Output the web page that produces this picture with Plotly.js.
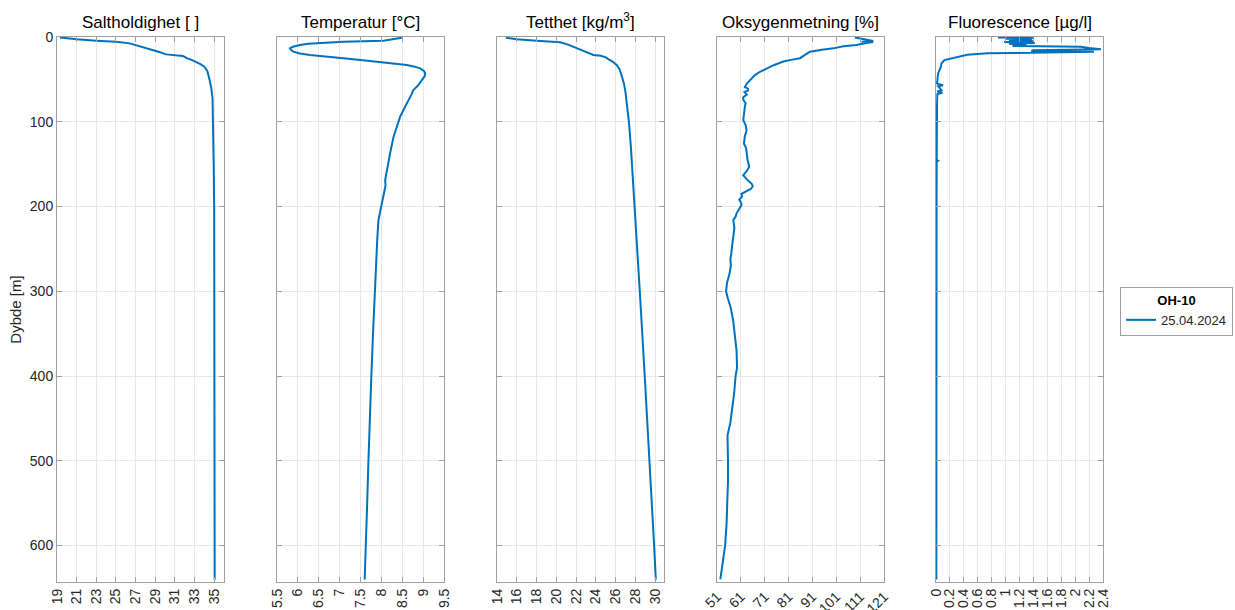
<!DOCTYPE html>
<html>
<head>
<meta charset="utf-8">
<script src="https://cdn.plot.ly/plotly-3.0.1.min.js"></script>
<style>html,body{margin:0;padding:0;background:#fff;}#chart{width:1235px;height:610px;}</style>
</head>
<body>
<div id="chart"></div>
<script>
// ---- Data ----
const salDepth = [0.5,2.7,4.3,5.5,7.5,11,14.2,18,20.5,21.5,22.4,23.5,25,27,29,32,35,40,49,60,72,100,150,200,300,400,500,600,640];
const salValue = [19.3,21.0,23.0,25.0,26.4,27.5,28.4,29.5,30.1,31.0,31.8,32.0,32.2,32.7,33.1,33.6,34.0,34.3,34.5,34.7,34.83,34.9,34.95,35.0,35.02,35.03,35.04,35.05,35.05];

const tempDepth = [0.8,2.5,4.3,5.5,6.7,8,9.4,11.5,13.4,15.5,17.3,19.5,21.2,23,25.2,27,29,31,33,35,37,40,43,46,49,53,57,60,63,68,74,84,94,105,118,137,157,169,175,185,200,216,240,270,300,350,400,450,500,550,600,640];
const tempValue = [8.49,8.3,8.05,7.09,6.53,6.25,6.05,5.88,5.81,5.84,5.89,6.05,6.29,6.6,7.09,7.5,7.89,8.3,8.61,8.8,8.93,9.02,9.05,9.04,9.0,8.95,8.88,8.82,8.76,8.72,8.65,8.55,8.45,8.37,8.29,8.21,8.13,8.09,8.1,8.06,8.01,7.93,7.9,7.87,7.84,7.8,7.76,7.72,7.69,7.66,7.63,7.6];

const densDepth = [0.8,2.7,4.3,6.3,9,13.4,17,21.2,22.2,23.2,24,26.4,29,33,38,45,55,65,80,100,130,200,300,400,500,600,640];
const densValue = [14.9,16.0,18.0,20.4,21.2,22.1,22.9,23.75,24.5,24.9,25.0,25.3,25.7,26.1,26.4,26.6,26.85,27.0,27.15,27.35,27.55,27.95,28.45,28.95,29.45,29.9,30.07];

const oxyDepth = [0.5,2,4.7,5.5,6,7.5,9.4,11,13.4,15,17.3,20,25,27,29,33,37,41,45,51,55,59,61,63,65,68,71,74,78,82,90,98,104,110,118,126,131,137,145,153,158,163,168,173,176,179,183,185,188,192,195,198,203,208,212,216,225,235,245,255,262,270,280,290,300,308,320,335,350,370,390,400,420,440,455,470,485,500,525,550,575,600,620,640];
const oxyValue = [108.8,112,116.5,111.6,116.5,113,109.5,104,99.8,95,90,88.5,85.8,82,78.8,75,71.8,69,66.9,64.8,63.5,62.7,64,64.1,62.5,63.5,62,62.0,63,62.7,62.2,62.0,63,63.4,62.6,62.3,63.2,63.4,63.8,64.5,63.5,62.0,63.5,65.5,66,65.3,62.5,61.3,61.5,60.3,61,61.3,60.3,59.2,58.8,57.8,58.3,58,57.4,57,56.6,56.8,56.2,55.2,54.8,55.5,56.8,57.8,58.5,59.2,59.4,58.8,58.2,57.2,56.6,55.4,55.6,55.6,55.6,55.4,55.0,54.4,53.5,52.4];

const fluoDepth = [0.5,1.0,2.0,3.0,4.0,5.0,6.0,7.0,8.0,9.0,10.5,11.5,13.0,14.5,15.5,16.5,17.4,18.5,19.3,21,23.3,27.2,31,35,43,50,55,57,58,63,64,66,67,80,100,120,145,146,147,200,300,400,500,600,640];
const fluoValue = [0.89,1.41,1.00,1.38,1.05,1.40,0.98,1.42,1.05,1.30,1.10,2.08,2.20,2.37,1.40,1.37,2.27,1.5,0.74,0.45,0.31,0.12,0.08,0.07,0.03,0.02,0.015,0.10,0.03,0.08,0.02,0.09,0.02,0.015,0.012,0.01,0.01,0.03,0.01,0.008,0.006,0.005,0.005,0.005,0.005];

const panelTitles = ['Saltholdighet [ ]','Temperatur [°C]','Tetthet [kg/m<sup>3</sup>]','Oksygenmetning [%]','Fluorescence [µg/l]'];
const salTicks = [19,21,23,25,27,29,31,33,35];
const tempTicks = [5.5,6,6.5,7,7.5,8,8.5,9,9.5];
const tempTickText = ['5.5','6','6.5','7','7.5','8','8.5','9','9.5'];
const densTicks = [14,16,18,20,22,24,26,28,30];
const oxyTicks = [51,61,71,81,91,101,111,121];
const fluoTicks = [0,0.2,0.4,0.6,0.8,1,1.2,1.4,1.6,1.8,2,2.2,2.4];
const fluoTickText = ['0','0.2','0.4','0.6','0.8','1','1.2','1.4','1.6','1.8','2','2.2','2.4'];
const depthTicks = [0,100,200,300,400,500,600];
const legendHeader = 'OH-10';
const seriesName = '25.04.2024';

// ---- Layout helpers ----
const W = 1235, H = 610;
const FONT = 'Liberation Sans, Arial, Helvetica, sans-serif';
const lineColor = '#0072BD';
const panelLeft = [57, 277, 497, 717, 936];
const panelWidth = 167;
const plotTop = 37, plotBottom = 582;
const yDom = [1 - plotBottom / H, 1 - plotTop / H];
const frameColor = '#a0a0a0';

function xAxis(i, range, tickvals, ticktext, angle) {
  return {
    domain: [panelLeft[i] / W, (panelLeft[i] + panelWidth) / W],
    range: range, anchor: i === 0 ? 'y' : 'y' + (i + 1),
    tickmode: 'array', tickvals: tickvals, ticktext: ticktext,
    tickangle: angle,
    showline: true, linecolor: frameColor, linewidth: 1, mirror: 'ticks',
    ticks: 'inside', ticklen: 5, tickcolor: frameColor,
    showgrid: true, gridcolor: '#e8e8e8', gridwidth: 1, zeroline: false,
    tickfont: {family: FONT, size: 14, color: '#262626'},
    automargin: false, fixedrange: true
  };
}
function yAxis(i) {
  const a = {
    domain: yDom, range: [643, 0], anchor: i === 0 ? 'x' : 'x' + (i + 1),
    tickmode: 'array', tickvals: depthTicks,
    showticklabels: i === 0,
    showline: true, linecolor: frameColor, linewidth: 1, mirror: 'ticks',
    ticks: 'inside', ticklen: 5, tickcolor: frameColor,
    showgrid: true, gridcolor: '#e8e8e8', gridwidth: 1, zeroline: false,
    tickfont: {family: FONT, size: 14, color: '#262626'},
    automargin: false, fixedrange: true
  };
  if (i === 0) a.title = {text: 'Dybde [m]', font: {family: FONT, size: 15, color: '#262626'}, standoff: 4};
  else a.matches = 'y';
  return a;
}

const series = [
  [salValue, salDepth], [tempValue, tempDepth], [densValue, densDepth], [oxyValue, oxyDepth], [fluoValue, fluoDepth]
];
const traces = series.map((s, i) => ({
  type: 'scatter', mode: 'lines', x: s[0], y: s[1],
  xaxis: i === 0 ? 'x' : 'x' + (i + 1), yaxis: i === 0 ? 'y' : 'y' + (i + 1),
  line: {color: lineColor, width: 2}, name: seriesName, showlegend: i === 0,
  hoverinfo: 'skip'
}));

const annotations = panelTitles.map((t, i) => ({
  text: t, xref: 'paper', yref: 'paper',
  x: (panelLeft[i] + panelWidth / 2) / W, y: 1 - 34 / H,
  xanchor: 'center', yanchor: 'bottom', showarrow: false,
  font: {family: FONT, size: 17, color: '#000'}
}));

const layout = {
  width: W, height: H,
  margin: {l: 0, r: 0, t: 0, b: 0},
  paper_bgcolor: '#fff', plot_bgcolor: '#fff',
  showlegend: true,
  legend: {
    x: 1120 / W, y: 1 - 287 / H, xanchor: 'left', yanchor: 'top',
    bordercolor: frameColor, borderwidth: 1, bgcolor: '#fff',
    font: {family: FONT, size: 13, color: '#262626'},
    title: {text: '<b>' + legendHeader + '</b>', side: 'top center', font: {family: FONT, size: 13, color: '#000'}},
    itemwidth: 30, tracegroupgap: 0
  },
  annotations: annotations,
  shapes: [{type: 'line', xref: 'paper', yref: 'paper', x0: 1120 / W, x1: 1233 / W, y0: 1 - 309 / H, y1: 1 - 309 / H, line: {color: frameColor, width: 1}}],
  xaxis: xAxis(0, [19, 36], salTicks, salTicks.map(String), -90),
  xaxis2: xAxis(1, [5.5, 9.5], tempTicks, tempTickText, -90),
  xaxis3: xAxis(2, [14, 30.9], densTicks, densTicks.map(String), -90),
  xaxis4: xAxis(3, [51, 121], oxyTicks, oxyTicks.map(String), -45),
  xaxis5: xAxis(4, [0, 2.4], fluoTicks, fluoTickText, -90),
  yaxis: yAxis(0), yaxis2: yAxis(1), yaxis3: yAxis(2), yaxis4: yAxis(3), yaxis5: yAxis(4)
};

Plotly.newPlot('chart', traces, layout, {displayModeBar: false, staticPlot: true});
</script>
</body>
</html>
